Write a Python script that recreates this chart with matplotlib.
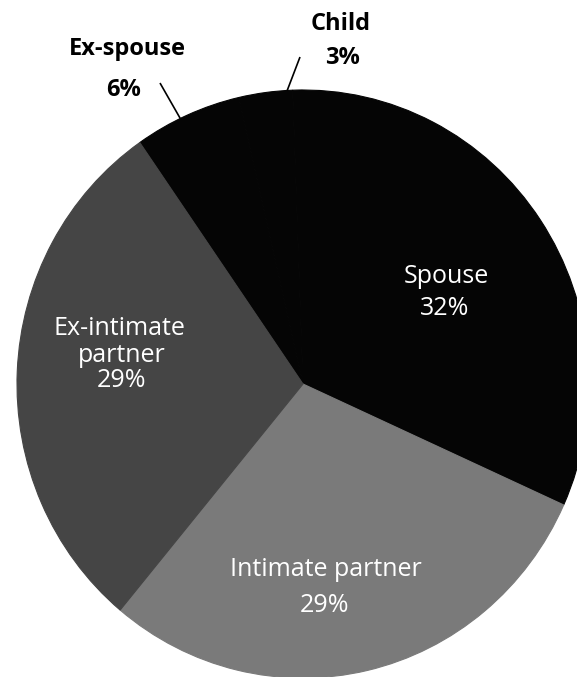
import matplotlib.pyplot as plt
import numpy as np

# shares of victims by relationship (percent), clockwise from upper left
labels = ['Ex-spouse', 'Child', 'Spouse', 'Intimate partner', 'Ex-intimate partner']
values = [6, 3, 32, 29, 29]
colors = ['#050505', '#050505', '#050505', '#7a7a7a', '#454545']

# pie geometry in pixels of the 577x677 picture
W, H = 577, 677
cx, cy = 303, 384
rx, ry = 286, 294


def px(x, y):
    # picture pixels -> data units (pie radius = 1)
    return (x - cx) / rx, (cy - y) / ry


fig = plt.figure(figsize=(W / 100, H / 100), dpi=100)
ax = fig.add_axes([0, 0, 1, 1])

wedges, _ = ax.pie(values, colors=colors, startangle=124.8, counterclock=False,
                   radius=1, wedgeprops=dict(linewidth=0.8))
for w, c in zip(wedges, colors):
    w.set_edgecolor(c)
ax.set_aspect('auto')
ax.set_xlim(px(0, 0)[0], px(W, 0)[0])
ax.set_ylim(px(0, H)[1], px(0, 0)[1])
ax.axis('off')

bold = dict(family='Open Sans', fontweight='bold', fontsize=17, color='black',
            ha='center', va='baseline')
reg = dict(family='Open Sans', fontsize=18, color='white',
           ha='center', va='baseline')

# outside labels with leader lines
ax.text(*px(127, 55), labels[0], **bold)
ax.text(*px(124, 96), '%d%%' % values[0], **bold)
ax.text(*px(341, 30), labels[1], **bold)
ax.text(*px(343, 64), '%d%%' % values[1], **bold)

for w, frac, start in [(wedges[0], 0.57, (160, 83)), (wedges[1], 0.1, (300, 57))]:
    th = np.radians(w.theta1 + frac * (w.theta2 - w.theta1))
    x0, y0 = px(*start)
    ax.plot([x0, np.cos(th)], [y0, np.sin(th)], color='black', lw=1.2,
            solid_capstyle='butt')

# inside labels
ax.text(*px(446, 283), labels[2], **reg)
ax.text(*px(445, 315), '%d%%' % values[2], **reg)
ax.text(*px(326, 576), labels[3], **reg)
ax.text(*px(325, 612), '%d%%' % values[3], **reg)
ax.text(*px(119, 335), 'Ex-intimate', **reg)
ax.text(*px(122, 362), 'partner', **reg)
ax.text(*px(122, 387), '%d%%' % values[4], **reg)

plt.savefig('out.png', dpi=100)
